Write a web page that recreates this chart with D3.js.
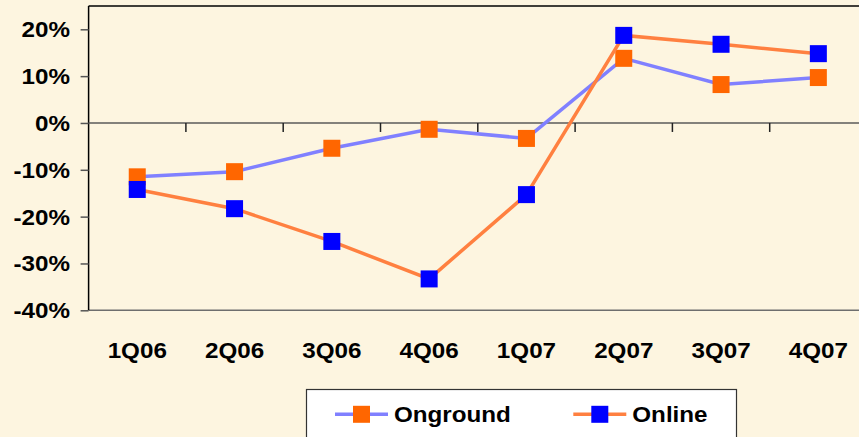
<!DOCTYPE html>
<html><head><meta charset="utf-8">
<script src="https://cdn.jsdelivr.net/npm/d3@7"></script>
<style>
html,body{margin:0;padding:0;background:#FDF5E0;}
svg{display:block;}
text{font-family:"Liberation Sans",Arial,sans-serif;font-weight:bold;fill:#000;}
</style></head>
<body>
<script>
const categories = ["1Q06","2Q06","3Q06","4Q06","1Q07","2Q07","3Q07","4Q07"];
const onground = [-11.5,-10.4,-5.4,-1.35,-3.3,13.8,8.2,9.7];
const online = [-14.2,-18.3,-25.3,-33.3,-15.3,18.7,16.8,14.8];
const yTicks = [20,10,0,-10,-20,-30,-40];
const seriesNames = ["Onground","Online"];

(function(){
const W=859,H=437;
const svg=d3.select("body").append("svg").attr("width",W).attr("height",H);
svg.append("rect").attr("width",W).attr("height",H).attr("fill","#FDF5E0");

const pLeft=88.6, pRight=88.6+8*97.3, pTop=6;
const x=d3.scaleBand().domain(categories).range([pLeft,pRight]);
const y=d3.scaleLinear().domain([-40,20]).range([310.3,29.3]);

const sx=1.1;
// plot border
svg.append("line").attr("x1",pLeft).attr("x2",W).attr("y1",pTop).attr("y2",pTop).attr("stroke","#000").attr("stroke-width",1.5);
svg.append("line").attr("x1",pLeft).attr("x2",W).attr("y1",y(-40)).attr("y2",y(-40)).attr("stroke","#6e6e6e").attr("stroke-width",1.5);

// y axis
const yAxis=svg.append("g").attr("transform",`translate(${pLeft},0)`)
  .call(d3.axisLeft(y).tickValues(yTicks).tickSize(8).tickFormat(""));
yAxis.select(".domain").attr("stroke","#000").attr("stroke-width",1.5).attr("d",`M0,${pTop}V${y(-40)}`);
yAxis.selectAll(".tick line").attr("stroke","#555").attr("stroke-width",1.5);
yTicks.forEach(v=>{
  svg.append("text").attr("transform",`translate(70,${y(v)+8}) scale(${sx},1)`)
    .attr("text-anchor","end").attr("font-size",22).text(v+"%");
});

// x axis at zero
const xAxis=svg.append("g").attr("transform",`translate(0,${y(0)})`)
  .call(d3.axisBottom(x).tickSize(0).tickFormat(""));
xAxis.select(".domain").attr("stroke","#5a5a5a").attr("stroke-width",1.5).attr("d",`M${pLeft},0H${W}`);
const tickPos=d3.range(1,9).map(i=>pLeft+i*x.step());
svg.append("g").selectAll("line").data(tickPos).join("line")
  .attr("x1",d=>d).attr("x2",d=>d).attr("y1",y(0)).attr("y2",y(0)+9)
  .attr("stroke","#222").attr("stroke-width",1.5);
categories.forEach(c=>{
  svg.append("text").attr("transform",`translate(${x(c)+x.bandwidth()/2},358) scale(${sx},1)`)
    .attr("text-anchor","middle").attr("font-size",22).text(c);
});

const cx=c=>x(c)+x.bandwidth()/2;
const line=d3.line().x((d,i)=>cx(categories[i])).y(d=>y(d));
const ms=17;
function series(vals,lineColor,markColor){
  svg.append("path").attr("d",line(vals)).attr("fill","none").attr("stroke",lineColor).attr("stroke-width",3.5);
  svg.append("g").selectAll("rect").data(vals).join("rect")
    .attr("x",(d,i)=>cx(categories[i])-ms/2).attr("y",d=>y(d)-ms/2)
    .attr("width",ms).attr("height",ms).attr("fill",markColor);
}
series(onground,"#8080FF","#FF6600");
series(online,"#FF8040","#0000FF");

// legend
svg.append("rect").attr("x",306.5).attr("y",389.5).attr("width",430).attr("height",60)
  .attr("fill","#fff").attr("stroke","#333").attr("stroke-width",1.2);
const leg=[{name:seriesNames[0],lc:"#8080FF",mc:"#FF6600",x0:335},{name:seriesNames[1],lc:"#FF8040",mc:"#0000FF",x0:573.3}];
leg.forEach(l=>{
  svg.append("line").attr("x1",l.x0).attr("x2",l.x0+53).attr("y1",414.3).attr("y2",414.3).attr("stroke",l.lc).attr("stroke-width",3.5);
  svg.append("rect").attr("x",l.x0+26.5-ms/2).attr("y",414.3-ms/2).attr("width",ms).attr("height",ms).attr("fill",l.mc);
  svg.append("text").attr("transform",`translate(${l.x0+59},422) scale(${sx},1)`).attr("font-size",22).text(l.name);
});
})();
</script>
</body></html>
